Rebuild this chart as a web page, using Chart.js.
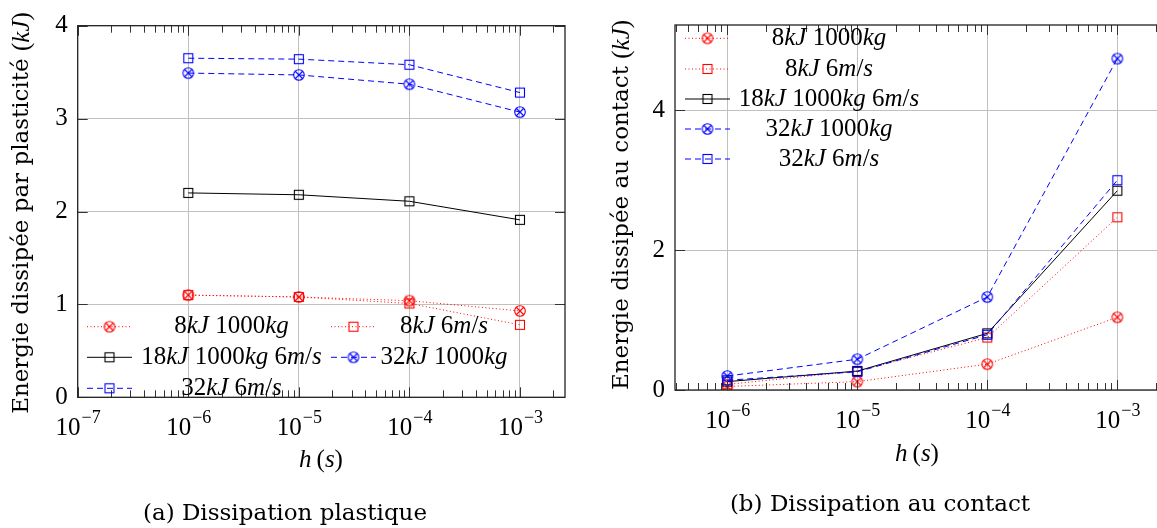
<!DOCTYPE html>
<html>
<head>
<meta charset="utf-8">
<script src="https://cdn.jsdelivr.net/npm/chart.js@4.4.1/dist/chart.umd.min.js"></script>
<style>
html, body { margin: 0; padding: 0; background: #fff; width: 1157px; height: 528px; overflow: hidden; }
.panel { position: absolute; top: 0; height: 528px; overflow: hidden; }
.caption { position: absolute; font-family: "DejaVu Serif", serif; font-size: 23px; color: #000;
           white-space: nowrap; transform: translate(-50%, -50%); }
</style>
</head>
<body>
<div class="panel" style="left:0;width:580px"><canvas id="plastChart" width="580" height="528"></canvas></div>
<div class="panel" style="left:580px;width:577px"><canvas id="contactChart" width="620" height="528"></canvas></div>
<div class="caption" style="left:285px;top:512px">(a) Dissipation plastique</div>
<div class="caption" style="left:880px;top:503px">(b) Dissipation au contact</div>
<script>
// time steps h (s)
const steps = [1e-6, 1e-5, 1e-4, 1e-3];
const seriesNames = ['8kJ 1000kg', '8kJ 6m/s', '18kJ 1000kg 6m/s', '32kJ 1000kg', '32kJ 6m/s'];

// (a) energy dissipated by plasticity (kJ)
const plast8kJ1000kg = [1.10, 1.08, 1.04, 0.93];
const plast8kJ6ms    = [1.10, 1.08, 1.01, 0.78];
const plast18kJ      = [2.20, 2.18, 2.11, 1.91];
const plast32kJ1000kg = [3.49, 3.47, 3.37, 3.07];
const plast32kJ6ms    = [3.65, 3.64, 3.58, 3.28];

// (b) energy dissipated at contact (kJ)
const cont8kJ1000kg = [0.05, 0.12, 0.37, 1.04];
const cont8kJ6ms    = [0.08, 0.27, 0.75, 2.47];
const cont18kJ      = [0.12, 0.27, 0.81, 2.85];
const cont32kJ1000kg = [0.20, 0.44, 1.33, 4.74];
const cont32kJ6ms    = [0.14, 0.26, 0.79, 3.00];

// tick labels: 10 with these exponents
const xTickValues = [1e-7, 1e-6, 1e-5, 1e-4, 1e-3];
const xTickExponents = ['−7', '−6', '−5', '−4', '−3'];
const yTicksPlast = [0, 1, 2, 3, 4];
const yTicksContact = [0, 2, 4];

const MATH_FONT = '"Liberation Serif", serif';
const TEXT_FONT = '"DejaVu Serif", serif';

// pgfplots-like markers drawn once into small canvases
function makeMarker(kind, color) {
    const c = document.createElement('canvas');
    c.width = 14; c.height = 14;
    const g = c.getContext('2d');
    g.strokeStyle = color;
    g.lineWidth = 1.1;
    if (kind === 'otimes') {
        const r = 5.3, d = r * Math.SQRT1_2;
        g.beginPath(); g.arc(7, 7, r, 0, Math.PI * 2); g.stroke();
        g.beginPath();
        g.moveTo(7 - d, 7 - d); g.lineTo(7 + d, 7 + d);
        g.moveTo(7 + d, 7 - d); g.lineTo(7 - d, 7 + d);
        g.stroke();
    } else {
        g.strokeRect(2.5, 2.5, 9, 9);
    }
    return c;
}

const seriesStyles = [
    { color: '#ff0000', dash: [1, 2.5], width: 1, marker: makeMarker('otimes', '#ff0000') },
    { color: '#ff0000', dash: [1, 2.5], width: 1, marker: makeMarker('square', '#ff0000') },
    { color: '#000000', dash: [], width: 1, marker: makeMarker('square', '#000000') },
    { color: '#0000ff', dash: [6, 4], width: 1, marker: makeMarker('otimes', '#0000ff') },
    { color: '#0000ff', dash: [6, 4], width: 1, marker: makeMarker('square', '#0000ff') }
];

function makeDatasets(seriesValues) {
    return seriesValues.map((values, i) => ({
        label: seriesNames[i],
        data: values.map((v, k) => ({ x: steps[k], y: v })),
        borderColor: seriesStyles[i].color,
        borderWidth: seriesStyles[i].width,
        borderDash: seriesStyles[i].dash,
        pointStyle: seriesStyles[i].marker,
        pointRadius: 7,
        pointHoverRadius: 7,
        fill: false,
        tension: 0,
        order: seriesValues.length - i
    }));
}

// split "$...$" parts: prose upright, letters inside math italic
function textRuns(text) {
    const runs = [];
    text.split('$').forEach((part, k) => {
        if (k % 2 === 0) { if (part) runs.push({ t: part, math: false, it: false }); return; }
        for (const ch of part) {
            const it = /[A-Za-z]/.test(ch);
            const last = runs[runs.length - 1];
            if (last && last.math && last.it === it) last.t += ch; else runs.push({ t: ch, math: true, it });
        }
    });
    return runs;
}

const runFont = r => r.math ? (r.it ? 'italic ' : '') + '25px ' + MATH_FONT : '23px ' + TEXT_FONT;

function drawRuns(ctx, text, x, y) {
    const runs = textRuns(text);
    let total = 0;
    runs.forEach(r => { ctx.font = runFont(r); r.w = ctx.measureText(r.t).width; total += r.w; });
    let cx = x - total / 2;
    ctx.textAlign = 'left';
    ctx.textBaseline = 'middle';
    runs.forEach(r => { ctx.font = runFont(r); ctx.fillText(r.t, cx, y); cx += r.w; });
}

// frame, inward ticks, 10^n labels, axis titles and the legend inside the axes
const pgfDecor = {
    id: 'pgfDecor',
    afterDraw(chart, args, opts) {
        const { ctx, chartArea: a } = chart;
        const x = chart.scales.x, y = chart.scales.y;
        ctx.save();
        ctx.strokeStyle = '#333';
        ctx.lineWidth = 1;
        ctx.setLineDash([]);
        ctx.beginPath();
        const e0 = Math.floor(Math.log10(x.min)), e1 = Math.ceil(Math.log10(x.max));
        for (let e = e0; e <= e1; e++) {
            for (let m = 1; m <= 9; m++) {
                const v = m * Math.pow(10, e);
                if (v < x.min * 0.999 || v > x.max * 1.001) continue;
                const px = Math.round(x.getPixelForValue(v)) + 0.5;
                const len = m === 1 ? 10 : 7;
                ctx.moveTo(px, a.bottom); ctx.lineTo(px, a.bottom - len);
                ctx.moveTo(px, a.top); ctx.lineTo(px, a.top + len);
            }
        }
        y.ticks.forEach(t => {
            const py = Math.round(y.getPixelForValue(t.value)) + 0.5;
            ctx.moveTo(a.left, py); ctx.lineTo(a.left + 10, py);
            ctx.moveTo(a.right, py); ctx.lineTo(a.right - 10, py);
        });
        ctx.stroke();
        ctx.strokeStyle = '#222';
        ctx.lineWidth = 1.3;
        ctx.strokeRect(a.left, a.top, a.right - a.left, a.bottom - a.top);

        // x tick labels as 10 with a raised exponent
        ctx.fillStyle = '#000';
        ctx.textAlign = 'left';
        ctx.textBaseline = 'alphabetic';
        x.ticks.forEach(t => {
            const k = xTickValues.findIndex(v => Math.abs(Math.log10(v) - Math.log10(t.value)) < 1e-6);
            if (k < 0) return;
            ctx.font = '25px ' + MATH_FONT;
            const wb = ctx.measureText('10').width;
            ctx.font = '18px ' + MATH_FONT;
            const we = ctx.measureText(xTickExponents[k]).width;
            const x0 = x.getPixelForValue(t.value) - (wb + we) / 2;
            ctx.font = '25px ' + MATH_FONT;
            ctx.fillText('10', x0, a.bottom + 38);
            ctx.font = '18px ' + MATH_FONT;
            ctx.fillText(xTickExponents[k], x0 + wb + 1, a.bottom + 26);
        });

        drawRuns(ctx, opts.xTitle.text, opts.xTitle.x, opts.xTitle.y);
        ctx.save();
        ctx.translate(opts.yTitle.x, opts.yTitle.y);
        ctx.rotate(-Math.PI / 2);
        drawRuns(ctx, opts.yTitle.text, 0, 0);
        ctx.restore();

        opts.legend.forEach((pos, i) => {
            const ds = chart.data.datasets[i];
            ctx.strokeStyle = ds.borderColor;
            ctx.lineWidth = ds.borderWidth;
            ctx.setLineDash(ds.borderDash);
            ctx.beginPath();
            ctx.moveTo(pos.x0, pos.y); ctx.lineTo(pos.x1, pos.y);
            ctx.stroke();
            ctx.setLineDash([]);
            const img = ds.pointStyle;
            ctx.drawImage(img, (pos.x0 + pos.x1) / 2 - img.width / 2, pos.y - img.height / 2);
            ctx.fillStyle = '#000';
            drawRuns(ctx, '$' + ds.label + '$', pos.tx, pos.y);
        });
        ctx.restore();
    }
};

function makeChart(id, seriesValues, cfg) {
    return new Chart(document.getElementById(id), {
        type: 'line',
        data: { datasets: makeDatasets(seriesValues) },
        plugins: [pgfDecor],
        options: {
            responsive: false,
            animation: false,
            events: [],
            layout: { padding: cfg.padding },
            plugins: {
                legend: { display: false },
                tooltip: { enabled: false },
                pgfDecor: cfg.decor
            },
            scales: {
                x: {
                    type: 'logarithmic',
                    min: cfg.xMin,
                    max: cfg.xMax,
                    afterBuildTicks: s => {
                        s.ticks = xTickValues.filter(v => v >= s.min * 0.999 && v <= s.max).map(v => ({ value: v }));
                    },
                    afterFit: s => { s.height = cfg.xHeight; },
                    border: { display: false },
                    grid: { color: '#c0c0c0', lineWidth: 1, drawTicks: false },
                    ticks: { display: false, autoSkip: false }
                },
                y: {
                    min: 0,
                    max: cfg.yMax,
                    afterBuildTicks: s => { s.ticks = cfg.yTicks.map(v => ({ value: v })); },
                    afterFit: s => { s.width = cfg.yWidth; },
                    border: { display: false },
                    grid: { color: '#c0c0c0', lineWidth: 1, drawTicks: false },
                    ticks: { padding: 10, color: '#000', font: { family: MATH_FONT, size: 25 } }
                }
            }
        }
    });
}

makeChart('plastChart',
    [plast8kJ1000kg, plast8kJ6ms, plast18kJ, plast32kJ1000kg, plast32kJ6ms],
    {
        xMin: 1e-7, xMax: Math.pow(10, -2.593), yMax: 4, yTicks: yTicksPlast,
        padding: { top: 25.7, right: 15, left: 0, bottom: 0 },
        yWidth: 77.7, xHeight: 528 - 397.3,
        decor: {
            xTitle: { text: '$h\u2009(s)$', x: 321, y: 460 },
            yTitle: { text: 'Energie dissipée par plasticité $(kJ)$', x: 22, y: 213 },
            legend: [
                { x0: 87, x1: 132, y: 326.7, tx: 231.5 },
                { x0: 331, x1: 376, y: 326.7, tx: 444 },
                { x0: 87, x1: 132, y: 357.3, tx: 231.5 },
                { x0: 331, x1: 376, y: 357.3, tx: 444 },
                { x0: 87, x1: 132, y: 388.3, tx: 231.5 }
            ]
        }
    });

makeChart('contactChart',
    [cont8kJ1000kg, cont8kJ6ms, cont18kJ, cont32kJ1000kg, cont32kJ6ms],
    {
        xMin: Math.pow(10, -6.402), xMax: Math.pow(10, -2.598), yMax: 5.22, yTicks: yTicksContact,
        padding: { top: 18.3, right: 30.4, left: 0, bottom: 0 },
        yWidth: 95, xHeight: 528 - 390,
        decor: {
            xTitle: { text: '$h\u2009(s)$', x: 337, y: 454 },
            yTitle: { text: 'Energie dissipée au contact $(kJ)$', x: 42, y: 205 },
            legend: [
                { x0: 105, x1: 150, y: 38.3, tx: 249 },
                { x0: 105, x1: 150, y: 69, tx: 249 },
                { x0: 105, x1: 150, y: 99, tx: 249 },
                { x0: 105, x1: 150, y: 129, tx: 249 },
                { x0: 105, x1: 150, y: 159, tx: 249 }
            ]
        }
    });
</script>
</body>
</html>
